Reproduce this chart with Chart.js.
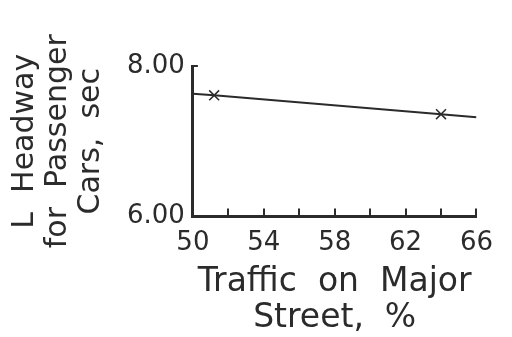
<!DOCTYPE html>
<html>
<head>
<meta charset="utf-8">
<script src="https://cdn.jsdelivr.net/npm/chart.js@4"></script>
<style>
  html, body { margin: 0; padding: 0; background: #fff; }
  #wrap { width: 512px; height: 337px; }
</style>
</head>
<body>
<div id="wrap"><canvas id="chart"></canvas></div>
<script>
// 値
const trafficPct = [50, 51.2, 64, 66]
const headwaySec = [7.63, 7.61, 7.36, 7.32]
const markerShown = [false, true, true, false]
const xTickLabels = [50, 54, 58, 62, 66]
const yTickLabels = [6, 8]

const ink = '#2b2b2b'
const fontName = "'DejaVu Sans', sans-serif"

const points = trafficPct.map((x, i) => ({ x: x, y: headwaySec[i] }))

const ctx = document.getElementById('chart').getContext('2d')
new Chart(ctx, {
    type: 'line',
    data: {
        datasets: [{
            data: points,
            borderColor: ink,
            borderWidth: 2,
            pointStyle: 'crossRot',
            pointRadius: markerShown.map(m => m ? 7 : 0),
            pointBorderColor: ink,
            pointBorderWidth: 1.5,
            tension: 0,
            fill: false
        }]
    },
    options: {
        responsive: true,
        maintainAspectRatio: false,
        animation: false,
        layout: { padding: { top: 66, right: 3, left: 9, bottom: 0 } },
        plugins: {
            legend: { display: false },
            tooltip: { enabled: false }
        },
        scales: {
            x: {
                type: 'linear',
                min: 50,
                max: 66,
                border: { display: true, color: ink, width: 3 },
                grid: { drawOnChartArea: false, drawTicks: true, tickLength: -8, color: ink, lineWidth: 2 },
                ticks: {
                    stepSize: 2,
                    autoSkip: false,
                    maxRotation: 0,
                    padding: 19,
                    color: ink,
                    font: { family: fontName, size: 26 },
                    callback: v => xTickLabels.includes(v) ? String(v) : ''
                },
                title: {
                    display: true,
                    text: ['Traffic  on  Major', 'Street,  %'],
                    color: ink,
                    font: { family: fontName, size: 33, lineHeight: 1.08 },
                    padding: { top: -13, bottom: 1 }
                }
            },
            y: {
                type: 'linear',
                min: 6,
                max: 8,
                border: { display: true, color: ink, width: 3 },
                grid: { drawOnChartArea: false, drawTicks: true, tickLength: -5, color: ink, lineWidth: 2 },
                ticks: {
                    stepSize: 2,
                    padding: 13,
                    color: ink,
                    font: { family: fontName, size: 26 },
                    callback: v => yTickLabels.includes(v) ? v.toFixed(2) : ''
                },
                title: {
                    display: true,
                    text: ['L  Headway', 'for  Passenger', 'Cars,  sec'],
                    color: ink,
                    font: { family: fontName, size: 30, lineHeight: 1.1 },
                    padding: { top: 0, bottom: 6 }
                }
            }
        }
    }
})
</script>
</body>
</html>
